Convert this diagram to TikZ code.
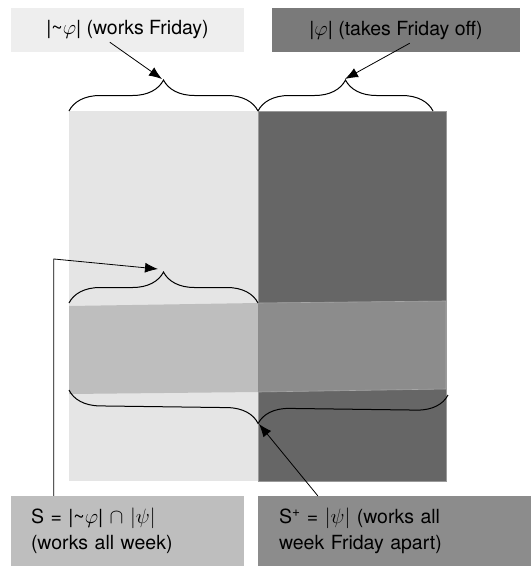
\documentclass[tikz,border=0pt]{standalone}
\usepackage{fontspec}
\setmainfont{TeX Gyre Heros}
\usepackage{tikz}
\usetikzlibrary{decorations.pathreplacing}
\usetikzlibrary{arrows.meta}
\usetikzlibrary{positioning}
\definecolor{workgray}{HTML}{E5E5E5}
\definecolor{offgray}{HTML}{666666}
\definecolor{sgray}{HTML}{BEBEBE}
\definecolor{spgray}{HTML}{8C8C8C}
\definecolor{topgray}{HTML}{EEEEEE}
\definecolor{topdark}{HTML}{7A7A7A}
\tikzstyle{bx}=[inner ysep=0pt, font=\fontsize{19.5}{26}\selectfont, text=black]
\tikzstyle{br}=[draw, line width=1pt, decorate, decoration={brace, amplitude=31pt}]
\tikzstyle{ar}=[draw, line width=0.8pt, -{Latex[length=13pt,width=10pt]}]

\begin{document}
\begin{tikzpicture}[x=1pt, y=-1pt]
      \useasboundingbox (0,0) rectangle (531,566);
%      \draw [help lines, step=50] (0,0) grid (531,566);
      \fill [workgray] (69,111) rectangle (258,481);
      \fill [offgray] (258,111) rectangle (446,481);
      \draw [gray!80] (258,111) rectangle (446,481);
      \fill [sgray] (69,306) -- (258,303) -- (258,392) -- (69,394) -- cycle;
      \fill [spgray] (258,303) -- (446,301) -- (446,389) -- (258,392) -- cycle;
      \draw [gray!70, line width=0.6pt] (258,303) -- (446,301) -- (446,389) -- (258,392);
      \node [bx, fill=topgray, minimum width=233pt, minimum height=44pt] (fri) at (127.5,30)
            {|\textasciitilde$\varphi$| (works Friday)};
      \node [bx, fill=topdark, minimum width=248pt, minimum height=44pt] (off) at (396,30)
            {|$\varphi$| (takes Friday off)};
      \node [bx, fill=sgray, minimum width=233pt, minimum height=70pt, inner xsep=20pt,
            text width=193pt, align=left] (s) at (127.5,531)
            {S = |\textasciitilde$\varphi$| $\cap$ $|\psi|$\\(works all week)};
      \node [bx, fill=spgray, minimum width=273pt, minimum height=70pt, inner xsep=21pt,
            text width=231pt, align=left] (splus) at (394.5,531)
            {S\textsuperscript{+} = $|\psi|$ (works all\\week Friday apart)};
      \coordinate (fritip) at (162,79);
      \coordinate (offtip) at (345,79);
      \coordinate (stip) at (158,269);
      \coordinate (sptip) at (259,424);
      \coordinate (bend) at (54,259);
      \path [br] (69,111) -- (258,111);
      \path [br] (258,111) -- (433,111);
      \path [br] (69,303) -- (258,303);
      \path [br] (448,395) -- (69,390);
      \path [ar] (fri.south west) ++(99,-10) -- (fritip);
      \path [ar] (off.south west) ++(138,-9) -- (offtip);
      \path [ar] (s.north west) ++(43,0) |- (bend) -- (stip);
      \path [ar] (splus.north west) ++(60,0) -- (sptip);
    \end{tikzpicture}
\end{document}
